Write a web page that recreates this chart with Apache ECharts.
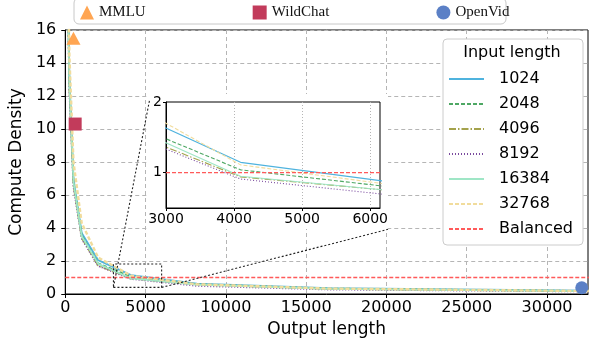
<!DOCTYPE html>
<html><head><meta charset="utf-8">
<script src="https://cdn.jsdelivr.net/npm/echarts@6/dist/echarts.min.js"></script>
<style>html,body{margin:0;padding:0;background:#fff}#c{width:589px;height:347px}</style>
</head><body><div id="c"></div>
<script>
// ---- data ----
const outputLengths = [128, 256, 512, 1024, 2048, 4096, 8192, 16384, 32768];
const inputLengths = ['1024', '2048', '4096', '8192', '16384', '32768'];
const density1024  = [21.5, 13.2, 7.0, 3.70, 2.05, 1.146, 0.628, 0.36, 0.20];
const density2048  = [20.5, 12.8, 6.8, 3.55, 1.86, 1.04, 0.59, 0.33, 0.18];
const density4096  = [20.0, 12.5, 6.6, 3.40, 1.73, 0.94, 0.58, 0.31, 0.17];
const density8192  = [19.5, 12.3, 6.5, 3.35, 1.70, 0.91, 0.49, 0.27, 0.15];
const density16384 = [20.5, 12.8, 6.8, 3.50, 1.83, 0.95, 0.57, 0.31, 0.17];
const density32768 = [23.0, 14.5, 8.0, 4.30, 2.21, 1.11, 0.59, 0.33, 0.18];
const balancedValue = 1;
const datasetNames = ['MMLU', 'WildChat', 'OpenVid'];
const datasetX = [512, 617, 32160];
const datasetY = [15.5, 10.3, 0.38];
const xTicks = [0, 5000, 10000, 15000, 20000, 25000, 30000];
const yTicks = [0, 2, 4, 6, 8, 10, 12, 14, 16];
const insetXTicks = [3000, 4000, 5000, 6000];
const insetYTicks = [1, 2];
// zoom annotation (data units of main axes)
const zoomBoxX = [3000, 6000];
const zoomBoxY = [0.4, 1.82];
const connectorEnds = [[5250, 11.76], [20100, 3.92]];

const densities = [density1024, density2048, density4096, density8192, density16384, density32768];
const colors = ['#4fb3de', '#4ea864', '#a4a24c', '#7a4a9e', '#9fe6c6', '#f1dc9c'];
const dashes = ['solid', [4, 2], [7, 2, 1.5, 2], [1, 2], 'solid', [4, 2]];
const FONT = 'DejaVu Sans';
const plain = v => String(v);

const chart = echarts.init(document.getElementById('c'));
const series = [];
inputLengths.forEach((name, i) => {
  const data = outputLengths.map((x, j) => [x, densities[i][j]]);
  series.push({name, type: 'line', xAxisIndex: 0, yAxisIndex: 0, data, symbol: 'none', z: 3,
    lineStyle: {color: colors[i], width: i === 5 ? 2.4 : 1.8, type: dashes[i]}, itemStyle: {color: colors[i]}});
  series.push({name, type: 'line', xAxisIndex: 1, yAxisIndex: 1, data, symbol: 'none', z: 4,
    lineStyle: {color: colors[i], width: 1.1, type: dashes[i]}, itemStyle: {color: colors[i]}});
});
series.push({name: 'Balanced', type: 'line', xAxisIndex: 0, yAxisIndex: 0, symbol: 'none', z: 3,
  data: [[0, balancedValue], [32768, balancedValue]],
  lineStyle: {color: '#ff5a5a', width: 1.5, type: [4, 2]}, itemStyle: {color: '#ff5a5a'}});
series.push({name: 'Balanced', type: 'line', xAxisIndex: 1, yAxisIndex: 1, symbol: 'none', z: 4,
  data: [[3000, balancedValue], [6144, balancedValue]],
  lineStyle: {color: '#ff5a5a', width: 1.4, type: [4, 2]}, itemStyle: {color: '#ff5a5a'}});
// zoom box + connectors
series.push({type: 'line', xAxisIndex: 0, yAxisIndex: 0, symbol: 'none', z: 3, silent: true,
  data: [[zoomBoxX[0], zoomBoxY[0]], [zoomBoxX[1], zoomBoxY[0]], [zoomBoxX[1], zoomBoxY[1]], [zoomBoxX[0], zoomBoxY[1]], [zoomBoxX[0], zoomBoxY[0]]],
  lineStyle: {color: '#222', width: 1.1, type: [2, 2]}});
series.push({type: 'line', xAxisIndex: 0, yAxisIndex: 0, symbol: 'none', z: 3, silent: true,
  data: [[zoomBoxX[0], zoomBoxY[0]], connectorEnds[0]], lineStyle: {color: '#222', width: 1.1, type: [2, 2]}});
series.push({type: 'line', xAxisIndex: 0, yAxisIndex: 0, symbol: 'none', z: 3, silent: true,
  data: [[zoomBoxX[1], zoomBoxY[0]], connectorEnds[1]], lineStyle: {color: '#222', width: 1.1, type: [2, 2]}});
// dataset markers
const markerSymbols = ['triangle', 'rect', 'circle'];
const markerColors = ['#ffa552', '#c23b5b', '#5b80c6'];
const markerSizes = [[14, 13], [13, 13], [13, 13]];
datasetNames.forEach((name, i) => {
  series.push({name, type: 'scatter', xAxisIndex: 0, yAxisIndex: 0, z: 5,
    data: [[datasetX[i], datasetY[i]]], symbol: markerSymbols[i], symbolSize: markerSizes[i],
    itemStyle: {color: markerColors[i], opacity: 1}});
});

const axisLbl = {color: '#000', fontFamily: FONT, fontSize: 16, formatter: plain};
const option = {
  animation: false,
  backgroundColor: '#fff',
  grid: [
    {left: 60, right: 1, top: 30, bottom: 53, show: true, borderColor: '#000', borderWidth: 1, z: 0},
    {left: 166, top: 102, width: 214, height: 106, show: true, borderColor: '#000', borderWidth: 1, backgroundColor: '#fff', z: 2}
  ],
  xAxis: [
    {type: 'value', gridIndex: 0, min: 0, max: 32550, interval: 5000, z: 0,
      name: 'Output length', nameLocation: 'middle', nameGap: 24,
      nameTextStyle: {color: '#000', fontFamily: FONT, fontSize: 17},
      axisLine: {lineStyle: {color: '#000', width: 1}},
      axisTick: {show: true, length: 4, lineStyle: {color: '#000'}, customValues: xTicks},
      axisLabel: Object.assign({margin: 6, customValues: xTicks}, axisLbl),
      splitLine: {show: true, lineStyle: {color: '#b5b5b5', type: [4, 3], width: 1}}},
    {type: 'value', gridIndex: 1, min: 3000, max: 6144, interval: 1000, z: 2,
      axisLine: {lineStyle: {color: '#000', width: 1}},
      axisTick: {show: true, length: 3, lineStyle: {color: '#000'}, customValues: insetXTicks},
      axisLabel: {color: '#000', fontFamily: FONT, fontSize: 14, margin: 4, customValues: insetXTicks, formatter: plain},
      splitLine: {show: true, lineStyle: {color: '#b5b5b5', type: [1, 2], width: 1}}}
  ],
  yAxis: [
    {type: 'value', gridIndex: 0, min: 0, max: 16, interval: 2, z: 0,
      name: 'Compute Density', nameLocation: 'middle', nameGap: 35,
      nameTextStyle: {color: '#000', fontFamily: FONT, fontSize: 17},
      axisLine: {show: true, lineStyle: {color: '#000', width: 1}},
      axisTick: {show: true, length: 4, lineStyle: {color: '#000'}, customValues: yTicks},
      axisLabel: Object.assign({margin: 9, customValues: yTicks}, axisLbl),
      splitLine: {show: true, lineStyle: {color: '#b5b5b5', type: [4, 3], width: 1}}},
    {type: 'value', gridIndex: 1, min: 0.5, max: 2, z: 2,
      axisLine: {show: true, lineStyle: {color: '#000', width: 1}},
      axisTick: {show: true, length: 3, lineStyle: {color: '#000'}, customValues: insetYTicks},
      axisLabel: {color: '#000', fontFamily: FONT, fontSize: 14, margin: 4, customValues: insetYTicks, formatter: plain},
      splitLine: {show: false}}
  ],
  legend: [
    {data: inputLengths.concat(['Balanced']), orient: 'vertical', left: 448, top: 71, z: 6, padding: 0,
      itemWidth: 35, itemHeight: 14, itemGap: 9, selectedMode: false,
      itemStyle: {opacity: 0},
      textStyle: {color: '#000', fontFamily: FONT, fontSize: 16, padding: [0, 0, 0, 10]}},
    {data: datasetNames, orient: 'horizontal', left: 80, top: 5, z: 6, padding: 0,
      itemWidth: 14, itemHeight: 14, itemGap: 107, selectedMode: false,
      textStyle: {color: '#111', fontFamily: 'Liberation Serif', fontSize: 15}}
  ],
  graphic: [
    {type: 'rect', z: 1, silent: true, shape: {x: 148, y: 94, width: 240, height: 135}, style: {fill: '#fff'}},
    {type: 'rect', z: 5, silent: true, shape: {x: 443, y: 39, width: 140, height: 206, r: 4}, style: {fill: '#fff', stroke: '#cccccc', lineWidth: 1}},
    {type: 'text', z: 6, silent: true, x: 512, y: 53, style: {text: 'Input length', fill: '#000', font: '16px "DejaVu Sans"', align: 'center', verticalAlign: 'middle'}},
    {type: 'rect', z: 5, silent: true, shape: {x: 74, y: -2, width: 432, height: 26, r: 5}, style: {fill: '#fff', stroke: '#c8c8c8', lineWidth: 1}}
  ],
  series
};
chart.setOption(option);
</script></body></html>
